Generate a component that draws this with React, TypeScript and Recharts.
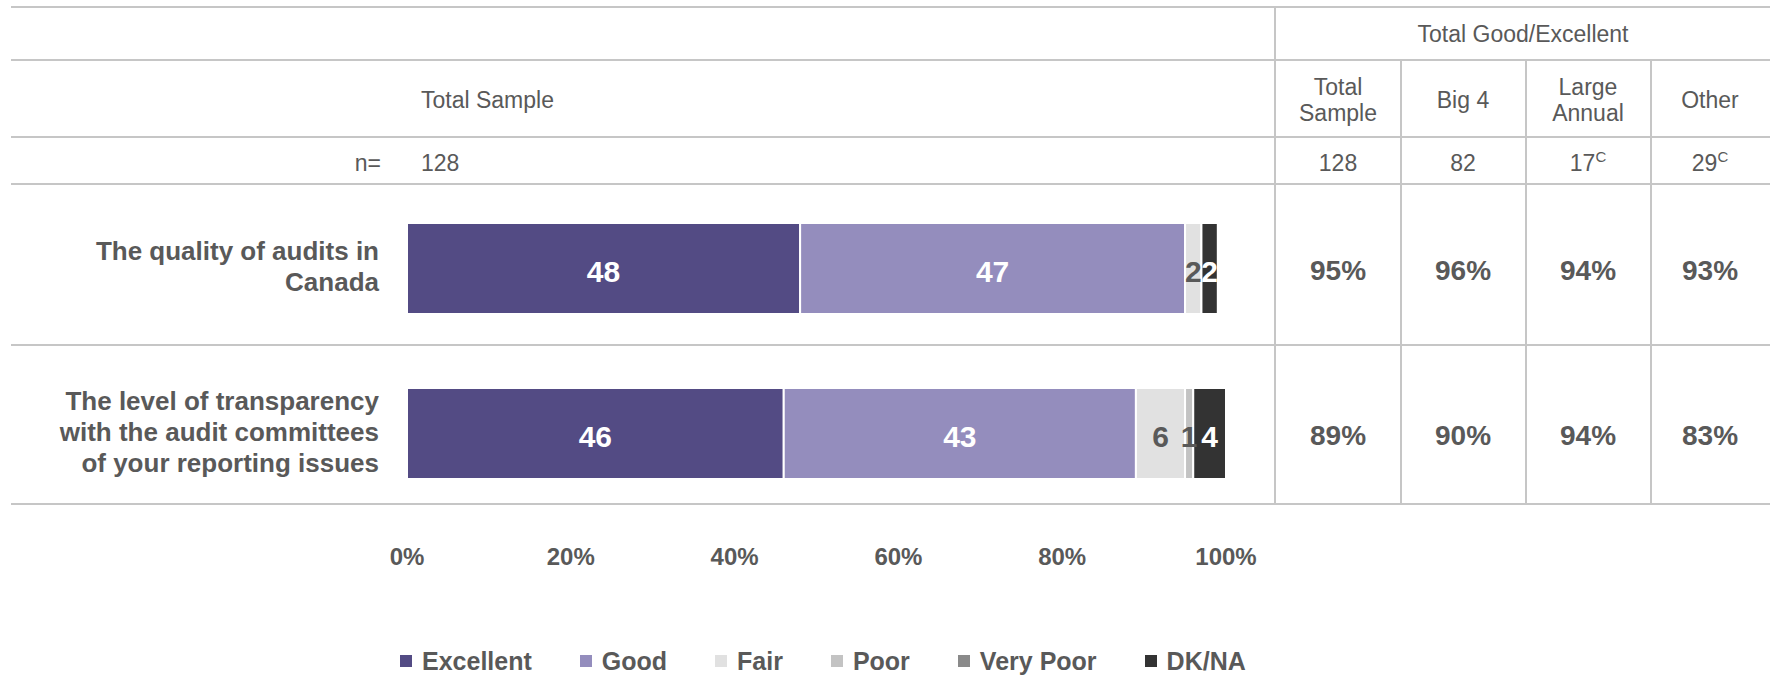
import { BarChart, Bar, XAxis, YAxis, Legend, LabelList } from 'recharts';

// rows of the chart
const categories = [
  'The quality of audits in Canada',
  'The level of transparency with the audit committees of your reporting issues',
];
const categoryLines = [
  ['The quality of audits in', 'Canada'],
  ['The level of transparency', 'with the audit committees', 'of your reporting issues'],
];

// stacked series, in %
const seriesNames = ['Excellent', 'Good', 'Fair', 'Poor', 'Very Poor', 'DK/NA'];
const excellent = [48, 46];
const good = [47, 43];
const fair = [2, 6];
const poor = [0, 1];
const veryPoor = [0, 0];
const dkna = [2, 4];
const xTicks = [0, 20, 40, 60, 80, 100];

// right hand table: Total Good/Excellent
const groupNames = [['Total', 'Sample'], ['Big 4'], ['Large', 'Annual'], ['Other']];
const groupN = ['128', '82', '17', '29'];
const groupSig = ['', '', 'C', 'C'];
const totalSampleN = '128';
const geTotalSample = [95, 89];
const geBig4 = [96, 90];
const geLargeAnnual = [94, 94];
const geOther = [93, 83];

const barColors = ['#534b84', '#948dbd', '#e1e1e1', '#c3c3c3', '#8a8a8a', '#333333'];
const labelColors = ['#ffffff', '#ffffff', '#595959', '#595959', '#ffffff', '#ffffff'];
const TEXT = '#595959';
const LINE = '#c6c6c6';
const FONT = "'Liberation Sans', Arial, sans-serif";

const colCenters = [1338, 1463, 1588, 1710];

const seriesValues = [excellent, good, fair, poor, veryPoor, dkna];
const data = categories.map((name, i) => {
  const row: any = { name };
  seriesNames.forEach((s, k) => {
    row[s] = seriesValues[k][i];
  });
  return row;
});

const LeftTick = (props: any) => {
  const { x, y, payload } = props;
  const lines = categoryLines[categories.indexOf(payload.value)] || [payload.value];
  const lh = 31;
  const start = y - 2 - ((lines.length - 1) * lh) / 2;
  return (
    <text textAnchor="end" fontSize={26} fontWeight="bold" fill={TEXT} fontFamily={FONT}>
      {lines.map((l, k) => (
        <tspan key={k} x={x} y={start + k * lh} dy="0.355em">
          {l}
        </tspan>
      ))}
    </text>
  );
};

const RightTick = (props: any) => {
  const { y, payload } = props;
  const i = categories.indexOf(payload.value);
  const vals = [geTotalSample[i], geBig4[i], geLargeAnnual[i], geOther[i]];
  return (
    <g>
      {vals.map((v, k) => (
        <text
          key={k}
          x={colCenters[k]}
          y={y + 2}
          dy="0.355em"
          textAnchor="middle"
          fontSize={28}
          fontWeight="bold"
          fill={TEXT}
          fontFamily={FONT}
        >
          {v}%
        </text>
      ))}
    </g>
  );
};

const renderLegend = (props: any) => {
  const items = [...(props.payload || [])].sort(
    (a: any, b: any) => seriesNames.indexOf(a.value) - seriesNames.indexOf(b.value)
  );
  return (
    <div style={{ display: 'flex', alignItems: 'center', fontFamily: FONT }}>
      {items.map((p: any, k: number) => (
        <div key={k} style={{ display: 'flex', alignItems: 'center', marginRight: 48 }}>
          <span style={{ width: 12, height: 12, background: p.color, marginRight: 10, display: 'inline-block' }} />
          <span style={{ fontSize: 25, fontWeight: 'bold', color: TEXT, whiteSpace: 'nowrap', lineHeight: '30px' }}>
            {p.value}
          </span>
        </div>
      ))}
    </div>
  );
};

function TableOverlay() {
  const hLines = [7, 60, 137, 184, 345, 504];
  const txt = { fontSize: 23, fill: TEXT, fontFamily: FONT };
  return (
    <svg width={1776} height={675} style={{ position: 'absolute', left: 0, top: 0, pointerEvents: 'none' }}>
      {hLines.map((y) => (
        <line key={y} x1={11} x2={1770} y1={y} y2={y} stroke={LINE} strokeWidth={2} />
      ))}
      <line x1={1275} x2={1275} y1={7} y2={504} stroke={LINE} strokeWidth={2} />
      {[1401, 1526, 1651].map((x) => (
        <line key={x} x1={x} x2={x} y1={60} y2={504} stroke={LINE} strokeWidth={2} />
      ))}
      <text x={1523} y={34} dy="0.355em" textAnchor="middle" {...txt}>
        Total Good/Excellent
      </text>
      <text x={421} y={100} dy="0.355em" textAnchor="start" {...txt}>
        Total Sample
      </text>
      {groupNames.map((lines, k) => {
        const start = 100 - ((lines.length - 1) * 26) / 2;
        return (
          <text key={k} textAnchor="middle" {...txt}>
            {lines.map((l, j) => (
              <tspan key={j} x={colCenters[k]} y={start + j * 26} dy="0.355em">
                {l}
              </tspan>
            ))}
          </text>
        );
      })}
      <text x={381} y={163} dy="0.355em" textAnchor="end" {...txt}>
        n=
      </text>
      <text x={421} y={163} dy="0.355em" textAnchor="start" {...txt}>
        {totalSampleN}
      </text>
      {groupN.map((n, k) => (
        <text key={k} x={colCenters[k]} y={163} dy="0.355em" textAnchor="middle" {...txt}>
          {n}
          {groupSig[k] ? (
            <tspan fontSize={15} dy="-0.6em">
              {groupSig[k]}
            </tspan>
          ) : null}
        </text>
      ))}
    </svg>
  );
}

export default function App() {
  return (
    <div style={{ position: 'absolute', left: 0, top: 0, width: 1776, height: 675, background: '#fff', fontFamily: FONT }}>
      <BarChart
        width={1776}
        height={675}
        data={data}
        layout="vertical"
        margin={{ top: 186, right: 0, bottom: 99, left: 0 }}
      >
        <XAxis
          type="number"
          domain={[0, 100]}
          ticks={xTicks}
          tickFormatter={(v: number) => `${v}%`}
          axisLine={false}
          tickLine={false}
          tickSize={0}
          tickMargin={32}
          height={60}
          interval={0}
          tick={{ fontSize: 24, fontWeight: 'bold', fill: TEXT, fontFamily: FONT }}
        />
        <YAxis
          yAxisId="left"
          type="category"
          dataKey="name"
          width={407}
          axisLine={false}
          tickLine={false}
          tickSize={0}
          tickMargin={28}
          tick={<LeftTick />}
        />
        <YAxis
          yAxisId="right"
          orientation="right"
          type="category"
          dataKey="name"
          width={550}
          axisLine={false}
          tickLine={false}
          tickSize={0}
          tick={<RightTick />}
        />
        {seriesNames.map((s, k) => (
          <Bar
            key={s}
            yAxisId="left"
            dataKey={s}
            name={s}
            stackId="a"
            fill={barColors[k]}
            stroke="#ffffff"
            strokeWidth={2}
            barSize={91}
            isAnimationActive={false}
          >
            <LabelList
              dataKey={s}
              position="center"
              fill={labelColors[k]}
              fontSize={30}
              fontWeight="bold"
              fontFamily={FONT}
              dy={3}
              formatter={(v: any) => (Number(v) > 0 ? v : '')}
            />
          </Bar>
        ))}
        <Legend
          layout="horizontal"
          verticalAlign="middle"
          align="center"
          content={renderLegend}
          wrapperStyle={{ left: 400, top: 646, width: 'auto', height: 30 }}
        />
      </BarChart>
      <TableOverlay />
    </div>
  );
}
